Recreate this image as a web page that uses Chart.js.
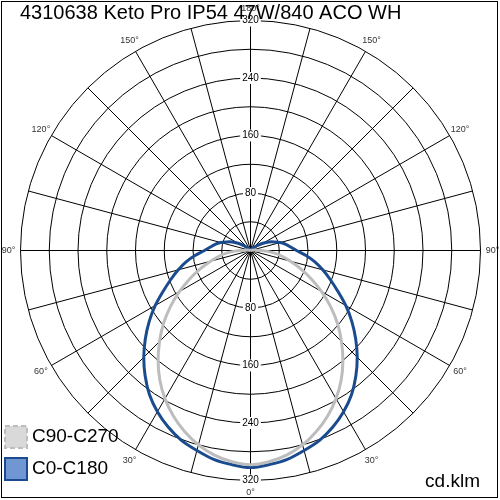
<!DOCTYPE html>
<html>
<head>
<meta charset="utf-8">
<script src="https://cdn.jsdelivr.net/npm/chart.js@4.4.1/dist/chart.umd.min.js"></script>
<style>
html, body { margin: 0; padding: 0; background: #fff; }
#wrap { width: 500px; height: 500px; position: relative; }
</style>
</head>
<body>
<div id="wrap"><canvas id="grafico"></canvas></div>
<script>
// Ángulos desde el nadir (grados) y valores de intensidad (cd/klm)
const angulos = [0, 5, 10, 15, 20, 25, 30, 35, 40, 45, 50, 55, 60, 65, 70, 75, 80, 85, 90,
    95, 100, 105, 110, 115, 120, 125, 130, 135, 140, 145, 150, 155, 160, 165, 170, 175, 180];
const intensidadC0 = [302, 299, 295, 288, 281, 271, 259, 245, 228, 210, 191, 172, 153, 134, 118, 104, 91, 77, 64,
    56, 50, 43, 35, 28, 20, 13, 8, 5, 3, 1, 0, 0, 0, 0, 0, 0, 0];
const intensidadC90 = [298, 295, 289, 280, 268, 254, 238, 220, 200, 179, 158, 136, 114, 93, 74, 57, 44, 30, 16,
    6, 2, 0, 0, 0, 0, 0, 0, 0, 0, 0, 0, 0, 0, 0, 0, 0, 0];

const anillos = [40, 80, 120, 160, 200, 240, 280, 320];
const etiquetasAnillo = [80, 160, 240, 320];
const etiquetasAngulo = [0, 30, 60, 90, 120, 150, 180];
const maxValor = 320;

const titulo = '4310638 Keto Pro IP54 47W/840 ACO WH';
const nombresSeries = ['C90-C270', 'C0-C180'];
const unidad = 'cd.klm';

// Convertir la curva (ángulo, intensidad) a puntos x/y, lado izquierdo y derecho
function curvaPolar(valores) {
    const puntos = [];
    for (let i = angulos.length - 1; i >= 0; i--) {
        const a = angulos[i] * Math.PI / 180;
        puntos.push({ x: -valores[i] * Math.sin(a), y: -valores[i] * Math.cos(a) });
    }
    for (let i = 1; i < angulos.length; i++) {
        const a = angulos[i] * Math.PI / 180;
        puntos.push({ x: valores[i] * Math.sin(a), y: -valores[i] * Math.cos(a) });
    }
    return puntos;
}

// Rejilla polar, etiquetas y leyenda
const rejillaPolar = {
    id: 'rejillaPolar',
    beforeDatasetsDraw(chart) {
        const { ctx, scales: { x, y } } = chart;
        const cx = x.getPixelForValue(0);
        const cy = y.getPixelForValue(0);
        const radio = v => x.getPixelForValue(v) - cx;
        const rMax = radio(maxValor);

        ctx.save();
        ctx.strokeStyle = '#000';
        ctx.lineWidth = 1;
        anillos.forEach(v => {
            ctx.beginPath();
            ctx.arc(cx, cy, radio(v), 0, Math.PI * 2);
            ctx.stroke();
        });
        for (let a = 0; a < 360; a += 15) {
            const r = a * Math.PI / 180;
            ctx.beginPath();
            ctx.moveTo(cx, cy);
            ctx.lineTo(cx + rMax * Math.sin(r), cy + rMax * Math.cos(r));
            ctx.stroke();
        }

        // etiquetas de intensidad sobre la línea vertical
        ctx.font = '10px Arial, "Liberation Sans"';
        ctx.textAlign = 'center';
        ctx.textBaseline = 'middle';
        etiquetasAnillo.forEach(v => {
            const w = ctx.measureText(String(v)).width + 4;
            [-1, 1].forEach(s => {
                const py = cy + s * radio(v);
                ctx.fillStyle = '#fff';
                ctx.fillRect(cx - w / 2, py - 6, w, 12);
                ctx.fillStyle = '#000';
                ctx.fillText(String(v), cx, py);
            });
        });

        // etiquetas de ángulo
        ctx.font = '9px Arial, "Liberation Sans"';
        ctx.fillStyle = '#333';
        etiquetasAngulo.forEach(a => {
            const r = a * Math.PI / 180;
            const lados = (a === 0 || a === 180) ? [1] : [-1, 1];
            lados.forEach(s => {
                ctx.fillText(a + '°', cx + s * (rMax + 12) * Math.sin(r), cy + (rMax + 12) * Math.cos(r));
            });
        });
        ctx.restore();
    },
    afterDraw(chart) {
        const { ctx } = chart;
        const ds = chart.data.datasets;
        ctx.save();

        ctx.fillStyle = '#000';
        ctx.textAlign = 'left';
        ctx.textBaseline = 'alphabetic';
        ctx.font = '20px Arial, "Liberation Sans"';
        ctx.fillText(titulo, 20, 19);

        // leyenda
        ctx.font = '19px Arial, "Liberation Sans"';
        ctx.textBaseline = 'middle';
        const filas = [436, 468];
        ds.forEach((d, i) => {
            const yy = filas[i];
            ctx.fillStyle = d.backgroundColor;
            ctx.fillRect(5, yy - 10, 22, 22);
            ctx.strokeStyle = d.borderColor;
            ctx.lineWidth = 2;
            ctx.setLineDash(i === 0 ? [5, 3] : []);
            ctx.strokeRect(5, yy - 10, 22, 22);
            ctx.setLineDash([]);
            ctx.fillStyle = '#000';
            ctx.fillText(d.label, 32, yy + 1);
        });

        ctx.textAlign = 'right';
        ctx.textBaseline = 'alphabetic';
        ctx.fillText(unidad, 480, 487);

        ctx.strokeStyle = '#000';
        ctx.lineWidth = 1;
        ctx.strokeRect(1.5, 1.5, 496, 496);
        ctx.restore();
    }
};

// unidades por píxel; el centro cae en 250.5 para líneas nítidas
const upp = maxValor / 230;

const ctx = document.getElementById('grafico').getContext('2d');
const grafico = new Chart(ctx, {
    type: 'scatter',
    data: {
        datasets: [{
            label: nombresSeries[0],
            data: curvaPolar(intensidadC90),
            borderColor: '#bdbdbd',
            backgroundColor: '#d9d9d9',
            borderWidth: 3,
            showLine: true,
            pointRadius: 0,
            tension: 0.3,
            order: 1
        }, {
            label: nombresSeries[1],
            data: curvaPolar(intensidadC0),
            borderColor: '#1b4b8f',
            backgroundColor: '#7097d3',
            borderWidth: 3,
            showLine: true,
            pointRadius: 0,
            tension: 0.3,
            order: 2
        }]
    },
    options: {
        responsive: true,
        maintainAspectRatio: false,
        animation: false,
        layout: { padding: 0 },
        plugins: {
            legend: { display: false },
            tooltip: { enabled: false }
        },
        scales: {
            x: { type: 'linear', min: -250.5 * upp, max: 249.5 * upp, display: false },
            y: { type: 'linear', min: -249.5 * upp, max: 250.5 * upp, display: false }
        }
    },
    plugins: [rejillaPolar]
});
</script>
</body>
</html>
